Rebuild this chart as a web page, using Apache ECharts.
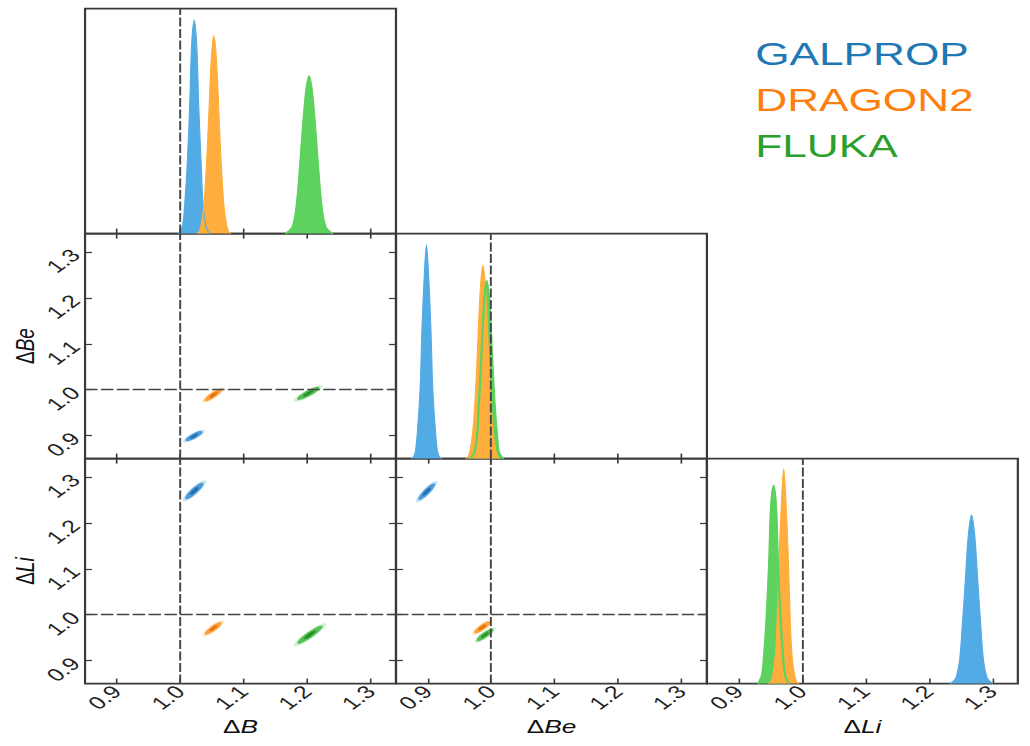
<!DOCTYPE html>
<html><head><meta charset="utf-8">
<script src="https://cdn.jsdelivr.net/npm/echarts@6/dist/echarts.min.js"></script>
<style>
html,body{margin:0;padding:0;background:#fff;overflow:hidden;width:1030px;height:746px}
#chart{width:746px;height:746px;transform:scaleX(1.38070);transform-origin:0 0}
</style></head><body><div id="chart"></div>
<script>
// ---- data ----
const params = ['B', 'Be', 'Li'];
const models = ['GALPROP', 'DRAGON2', 'FLUKA'];
const tickValues = [0.9, 1.0, 1.1, 1.2, 1.3];
const axisMin = 0.85, axisMax = 1.34;
const refValues = [1.0, 1.0, 1.0];

// 1D marginals: [value, relative height]
const histB_GALPROP = [[0.997,0],[1.000,0.01],[1.004,0.04],[1.007,0.13],[1.011,0.31],[1.015,0.58],[1.018,0.84],[1.022,0.95],[1.026,0.84],[1.029,0.58],[1.033,0.31],[1.036,0.13],[1.040,0.04],[1.044,0.01],[1.047,0]];
const histB_DRAGON2 = [[1.026,0],[1.030,0.01],[1.033,0.04],[1.037,0.12],[1.041,0.29],[1.045,0.53],[1.049,0.78],[1.053,0.88],[1.057,0.78],[1.061,0.53],[1.065,0.29],[1.069,0.12],[1.073,0.04],[1.076,0.01],[1.080,0]];
const histB_FLUKA = [[1.166,0],[1.171,0.01],[1.177,0.03],[1.182,0.09],[1.187,0.23],[1.192,0.42],[1.198,0.62],[1.203,0.70],[1.208,0.62],[1.214,0.42],[1.219,0.23],[1.224,0.09],[1.229,0.03],[1.235,0.01],[1.240,0]];
const histBe_GALPROP = [[0.874,0],[0.878,0.01],[0.881,0.04],[0.884,0.13],[0.888,0.31],[0.891,0.58],[0.895,0.84],[0.898,0.95],[0.901,0.84],[0.905,0.58],[0.908,0.31],[0.912,0.13],[0.915,0.04],[0.918,0.01],[0.922,0]];
const histBe_DRAGON2 = [[0.960,0],[0.964,0.01],[0.967,0.04],[0.971,0.12],[0.975,0.28],[0.979,0.52],[0.983,0.76],[0.987,0.86],[0.991,0.76],[0.995,0.52],[0.999,0.28],[1.003,0.12],[1.007,0.04],[1.010,0.01],[1.014,0]];
const histBe_FLUKA = [[0.966,0],[0.970,0.01],[0.974,0.03],[0.978,0.11],[0.981,0.26],[0.985,0.48],[0.989,0.70],[0.993,0.79],[0.997,0.70],[1.001,0.48],[1.005,0.26],[1.009,0.11],[1.012,0.03],[1.016,0.01],[1.020,0]];
const histLi_GALPROP = [[1.233,0],[1.238,0.01],[1.243,0.03],[1.248,0.10],[1.252,0.24],[1.257,0.45],[1.262,0.66],[1.267,0.75],[1.272,0.66],[1.277,0.45],[1.282,0.24],[1.286,0.10],[1.291,0.03],[1.296,0.01],[1.301,0]];
const histLi_DRAGON2 = [[0.947,0],[0.951,0.01],[0.954,0.04],[0.958,0.13],[0.961,0.31],[0.964,0.58],[0.968,0.84],[0.971,0.955],[0.974,0.84],[0.978,0.58],[0.981,0.31],[0.984,0.13],[0.988,0.04],[0.991,0.01],[0.995,0]];
const histLi_FLUKA = [[0.930,0],[0.933,0.01],[0.937,0.04],[0.940,0.12],[0.944,0.29],[0.948,0.53],[0.951,0.78],[0.955,0.88],[0.959,0.78],[0.962,0.53],[0.966,0.29],[0.970,0.12],[0.973,0.04],[0.977,0.01],[0.980,0]];

// 2D credible regions: [centerX, centerY, majorSemiAxisDX, majorSemiAxisDY, minorSemiAxis] per model
const contourB_Be  = [[1.0217,0.8991,0.0150,0.0117,0.0060],[1.0521,0.9885,0.0152,0.0146,0.0060],[1.2017,0.9920,0.0197,0.0153,0.0066]];
const contourB_Li  = [[1.0222,1.2695,0.0158,0.0204,0.0066],[1.0521,0.9704,0.0147,0.0152,0.0060],[1.2044,0.9564,0.0223,0.0220,0.0066]];
const contourBe_Li = [[0.8984,1.2680,0.0145,0.0207,0.0060],[0.9860,0.9725,0.0140,0.0140,0.0060],[0.9902,0.9558,0.0144,0.0146,0.0060]];

// ---- styling ----
const textColors = ['#1f77b4', '#ff7f0e', '#2ca02c'];
const fillColors = ['#53abe5', '#ffae3d', '#5ed25e'];
const bodyColors = ['#4796d6', '#ff9a33', '#4cbd4c'];
const coreColors = ['#1d69ab', '#e06c00', '#23881f'];
const hists = {
  B: [histB_GALPROP, histB_DRAGON2, histB_FLUKA],
  Be: [histBe_GALPROP, histBe_DRAGON2, histBe_FLUKA],
  Li: [histLi_GALPROP, histLi_DRAGON2, histLi_FLUKA]
};
const contours = { 'B_Be': contourB_Be, 'B_Li': contourB_Li, 'Be_Li': contourBe_Li };

const FONT = 'Liberation Sans';
const AX = '#3a3a3a';
const L = [61.6, 286.8, 512.0], T = [8.6, 233.6, 458.6], S = 225.2, H = 225;
const TICK_FONT = 18;

function axisName(p) {
  return '{d|Δ}{i|' + p + '}';
}
const nameRich = {
  d: { fontSize: 19, fontFamily: FONT, color: '#111' },
  i: { fontSize: 19, fontFamily: FONT, fontStyle: 'italic', color: '#111' }
};
const dash = { type: [9, 2.5], color: '#454545', width: 1.4 };

function ellipseRenderer(m) {
  return function (prm, api) {
    const cx = api.value(0), cy = api.value(1), ax = api.value(2), ay = api.value(3), b = api.value(4);
    const c = api.coord([cx, cy]);
    const t = api.coord([cx + ax, cy + ay]);
    const vx = t[0] - c[0], vy = t[1] - c[1];
    const a = Math.hypot(vx, vy);
    const bpx = api.size([b, 0])[0];
    const rot = Math.atan2(-vy, vx);
    const levels = [
      { s: 1.12, color: fillColors[m], op: 0.3 },
      { s: 0.88, color: bodyColors[m], op: 0.95 },
      { s: 0.42, color: coreColors[m], op: 0.9 }
    ];
    return {
      type: 'group',
      children: levels.map(l => ({
        type: 'circle', x: c[0], y: c[1], rotation: rot,
        scaleX: a * l.s, scaleY: bpx * l.s,
        shape: { cx: 0, cy: 0, r: 1 },
        style: { fill: l.color, opacity: l.op }
      }))
    };
  };
}

const grid = [], xAxis = [], yAxis = [], series = [];
for (let i = 0; i < 3; i++) {
  for (let j = 0; j <= i; j++) {
    const gi = grid.length;
    grid.push({ left: L[j], top: T[i], width: S, height: H, show: true, borderColor: AX, borderWidth: 1.6, backgroundColor: 'transparent' });
    const xi = xAxis.length;
    xAxis.push({
      type: 'value', gridIndex: gi, position: 'bottom', min: axisMin, max: axisMax,
      axisLine: { show: false }, splitLine: { show: false },
      axisTick: { show: true, inside: true, length: 5, customValues: tickValues, lineStyle: { color: AX, width: 1.2 } },
      axisLabel: { show: i === 2, customValues: tickValues, rotate: 45, margin: 5, fontSize: TICK_FONT, fontFamily: FONT, color: '#222', formatter: v => v.toFixed(1) },
      name: i === 2 ? axisName(params[j]) : '', nameLocation: 'middle', nameGap: 33,
      nameTextStyle: { rich: nameRich }
    });
    const yi = yAxis.length;
    if (i === j) {
      yAxis.push({ type: 'value', gridIndex: gi, min: 0, max: 1, show: false });
      const order = [2, 0, 1];
      order.forEach(m => {
        series.push({
          type: 'line', name: models[m], xAxisIndex: xi, yAxisIndex: yi,
          data: hists[params[j]][m], smooth: 0.35, symbol: 'none', animation: false,
          lineStyle: { width: 0.8, color: fillColors[m] },
          itemStyle: { color: textColors[m] },
          areaStyle: { color: fillColors[m], opacity: 1 }
        });
      });
      series.push({
        type: 'line', name: models[2], xAxisIndex: xi, yAxisIndex: yi,
        data: hists[params[j]][2], smooth: 0.35, symbol: 'none', animation: false,
        lineStyle: { width: 1.6, color: fillColors[2] }, itemStyle: { color: textColors[2] },
        markLine: { silent: true, symbol: ['none', 'none'], label: { show: false }, animation: false, lineStyle: dash, data: [{ xAxis: refValues[j] }] }
      });
    } else {
      yAxis.push({
        type: 'value', gridIndex: gi, position: 'left', min: axisMin, max: axisMax,
        axisLine: { show: false }, splitLine: { show: false },
        axisTick: { show: true, inside: true, length: 5, customValues: tickValues, lineStyle: { color: AX, width: 1.2 } },
        axisLabel: { show: j === 0, customValues: tickValues, rotate: 45, margin: 7, fontSize: TICK_FONT, fontFamily: FONT, color: '#222', formatter: v => v.toFixed(1) },
        name: j === 0 ? axisName(params[i]) : '', nameLocation: 'middle', nameRotate: 90, nameGap: 30,
        nameTextStyle: { rich: nameRich }
      });
      xAxis.push({
        type: 'value', gridIndex: gi, position: 'top', min: axisMin, max: axisMax,
        axisLine: { show: false }, splitLine: { show: false }, axisLabel: { show: false },
        axisTick: { show: true, inside: true, length: 5, customValues: tickValues, lineStyle: { color: AX, width: 1.2 } }
      });
      yAxis.push({
        type: 'value', gridIndex: gi, position: 'right', min: axisMin, max: axisMax,
        axisLine: { show: false }, splitLine: { show: false }, axisLabel: { show: false },
        axisTick: { show: true, inside: true, length: 5, customValues: tickValues, lineStyle: { color: AX, width: 1.2 } }
      });
      const cdata = contours[params[j] + '_' + params[i]];
      for (let m = 0; m < 3; m++) {
        const s = {
          type: 'custom', name: models[m], xAxisIndex: xi, yAxisIndex: yi,
          data: [cdata[m]], encode: { x: 0, y: 1 }, clip: true, animation: false,
          itemStyle: { color: textColors[m] },
          renderItem: ellipseRenderer(m)
        };
        if (m === 0) {
          s.markLine = { silent: true, symbol: ['none', 'none'], label: { show: false }, animation: false, lineStyle: dash,
            data: [{ xAxis: refValues[j] }, { yAxis: refValues[i] }] };
        }
        series.push(s);
      }
    }
  }
}

const chart = echarts.init(document.getElementById('chart'), null, { renderer: 'svg' });
chart.setOption({
  backgroundColor: '#ffffff',
  animation: false,
  legend: {
    orient: 'vertical', left: 537, top: 33, icon: 'none', itemWidth: 0, itemHeight: 0, itemGap: 14,
    textStyle: { fontSize: 32, fontFamily: FONT },
    data: models.map((n, k) => ({ name: n, textStyle: { color: textColors[k] } }))
  },
  grid, xAxis, yAxis, series
});
</script></body></html>
